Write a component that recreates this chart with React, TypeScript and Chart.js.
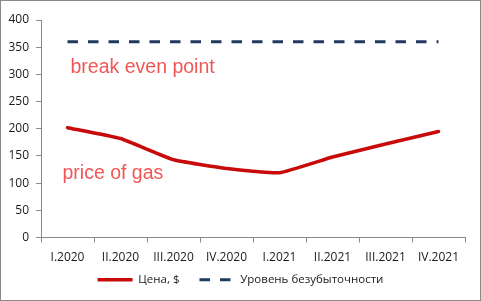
import React, { useEffect, useRef } from "react";
import { Chart, registerables } from "chart.js";

Chart.register(...registerables);

const categories = ["I.2020", "II.2020", "III.2020", "IV.2020", "I.2021", "II.2021", "III.2021", "IV.2021"];
const priceValues = [202, 182, 143, 127, 119, 148, 172, 195];
const breakEvenValues = [360, 360, 360, 360, 360, 360, 360, 360];
const seriesNames = ["Цена, $", "Уровень безубыточности"];
const yTicks = { min: 0, max: 400, step: 50 };
const noteTexts = ["break even point", "price of gas"];
const noteValues = [302, 108];
const noteCategoryIndex = [0, 0];
const noteShift = [3, -5];

const AXIS = "#898989";
const TICK_FONT = { family: "'Open Sans', sans-serif", size: 12 };
const LEGEND_FONT = { family: "'Open Sans', sans-serif", size: 11.5 };

const frame = {
  id: "frame",
  beforeDraw(chart: any) {
    const { ctx, width, height } = chart;
    ctx.save();
    ctx.fillStyle = "#ffffff";
    ctx.fillRect(0, 0, width, height);
    ctx.restore();
  },
  afterDraw(chart: any) {
    const { ctx, width, height } = chart;
    ctx.save();
    ctx.strokeStyle = "#8a8a8a";
    ctx.lineWidth = 1;
    ctx.strokeRect(0.5, 0.5, width - 1, height - 1);
    ctx.restore();
  },
};

// legend sits closer to the axis than Chart.js' own box model allows
const legendPlacement = {
  id: "legendPlacement",
  beforeLayout(chart: any) {
    const lg = chart.legend;
    if (lg && !lg.__patched) {
      const orig = lg.fit;
      lg.fit = function (this: any) {
        orig.call(this);
        this.__fullHeight = this.height;
        this.height = 26;
      };
      lg.__patched = true;
    }
  },
  afterLayout(chart: any) {
    const lg = chart.legend;
    if (lg) {
      const top = chart.chartArea.bottom + 16.5;
      const h = lg.__fullHeight || 42;
      lg.top = top;
      lg.height = h;
      lg.bottom = top + h;
      lg.left = 0;
      lg.right = chart.width;
      lg.width = chart.width;
    }
  },
};

const notes = {
  id: "notes",
  afterDatasetsDraw(chart: any) {
    const { ctx } = chart;
    const xs = chart.scales.x;
    const ys = chart.scales.y;
    ctx.save();
    ctx.font = "19.5px 'Liberation Sans', Arial, sans-serif";
    ctx.fillStyle = "#f05656";
    ctx.textBaseline = "alphabetic";
    ctx.textAlign = "left";
    noteTexts.forEach((t, i) => {
      const x = xs.getPixelForValue(noteCategoryIndex[i]) + noteShift[i];
      const y = ys.getPixelForValue(noteValues[i]);
      ctx.fillText(t, x, y);
    });
    ctx.restore();
  },
};

export default function App() {
  const ref = useRef<HTMLCanvasElement | null>(null);

  useEffect(() => {
    document.body.style.margin = "0";
    const canvas = ref.current;
    if (!canvas) return;
    const chart = new Chart(canvas, {
      type: "line",
      data: {
        labels: categories,
        datasets: [
          {
            label: seriesNames[0],
            data: priceValues,
            borderColor: "#c80a0a",
            backgroundColor: "#c80a0a",
            borderWidth: 3.5,
            pointRadius: 0,
            tension: 0.12,
            borderCapStyle: "round",
          },
          {
            label: seriesNames[1],
            data: breakEvenValues,
            borderColor: "#1f3a60",
            backgroundColor: "#1f3a60",
            borderWidth: 3,
            borderDash: [10.5, 10],
            pointRadius: 0,
            tension: 0,
          },
        ],
      },
      options: {
        responsive: false,
        animation: false,
        devicePixelRatio: 1,
        layout: { padding: { left: 0, right: 16, top: 20, bottom: 5 } },
        plugins: {
          tooltip: { enabled: false },
          legend: {
            position: "bottom",
            labels: {
              usePointStyle: true,
              pointStyle: "line",
              pointStyleWidth: 35,
              padding: 20,
              color: "#1a1a1a",
              font: LEGEND_FONT,
              generateLabels: (chart: any) =>
                chart.data.datasets.map((ds: any, i: number) => ({
                  text: ds.label,
                  datasetIndex: i,
                  fillStyle: ds.borderColor,
                  strokeStyle: ds.borderColor,
                  lineWidth: ds.borderWidth,
                  lineDash: ds.borderDash || [],
                  lineCap: "butt",
                  pointStyle: "line",
                  fontColor: "#1a1a1a",
                  hidden: false,
                })),
            },
          },
        },
        scales: {
          x: {
            type: "category",
            offset: true,
            afterFit: (s: any) => {
              s.height = 32.5;
            },
            grid: {
              offset: true,
              drawOnChartArea: false,
              drawTicks: true,
              tickLength: 5,
              color: AXIS,
            },
            border: { display: true, color: AXIS, width: 1 },
            ticks: {
              color: "#1a1a1a",
              font: TICK_FONT,
              padding: 8,
              maxRotation: 0,
              autoSkip: false,
            },
          },
          y: {
            min: yTicks.min,
            max: yTicks.max,
            afterFit: (s: any) => {
              s.width = 41;
            },
            grid: {
              drawOnChartArea: false,
              drawTicks: true,
              tickLength: 5,
              color: AXIS,
            },
            border: { display: true, color: AXIS, width: 1 },
            ticks: {
              stepSize: yTicks.step,
              color: "#1a1a1a",
              font: TICK_FONT,
              padding: 7,
            },
          },
        },
      },
      plugins: [frame, legendPlacement, notes],
    } as any);
    return () => chart.destroy();
  }, []);

  return (
    <div style={{ width: 481, height: 301 }}>
      <canvas ref={ref} width={481} height={301} style={{ display: "block" }} />
    </div>
  );
}
